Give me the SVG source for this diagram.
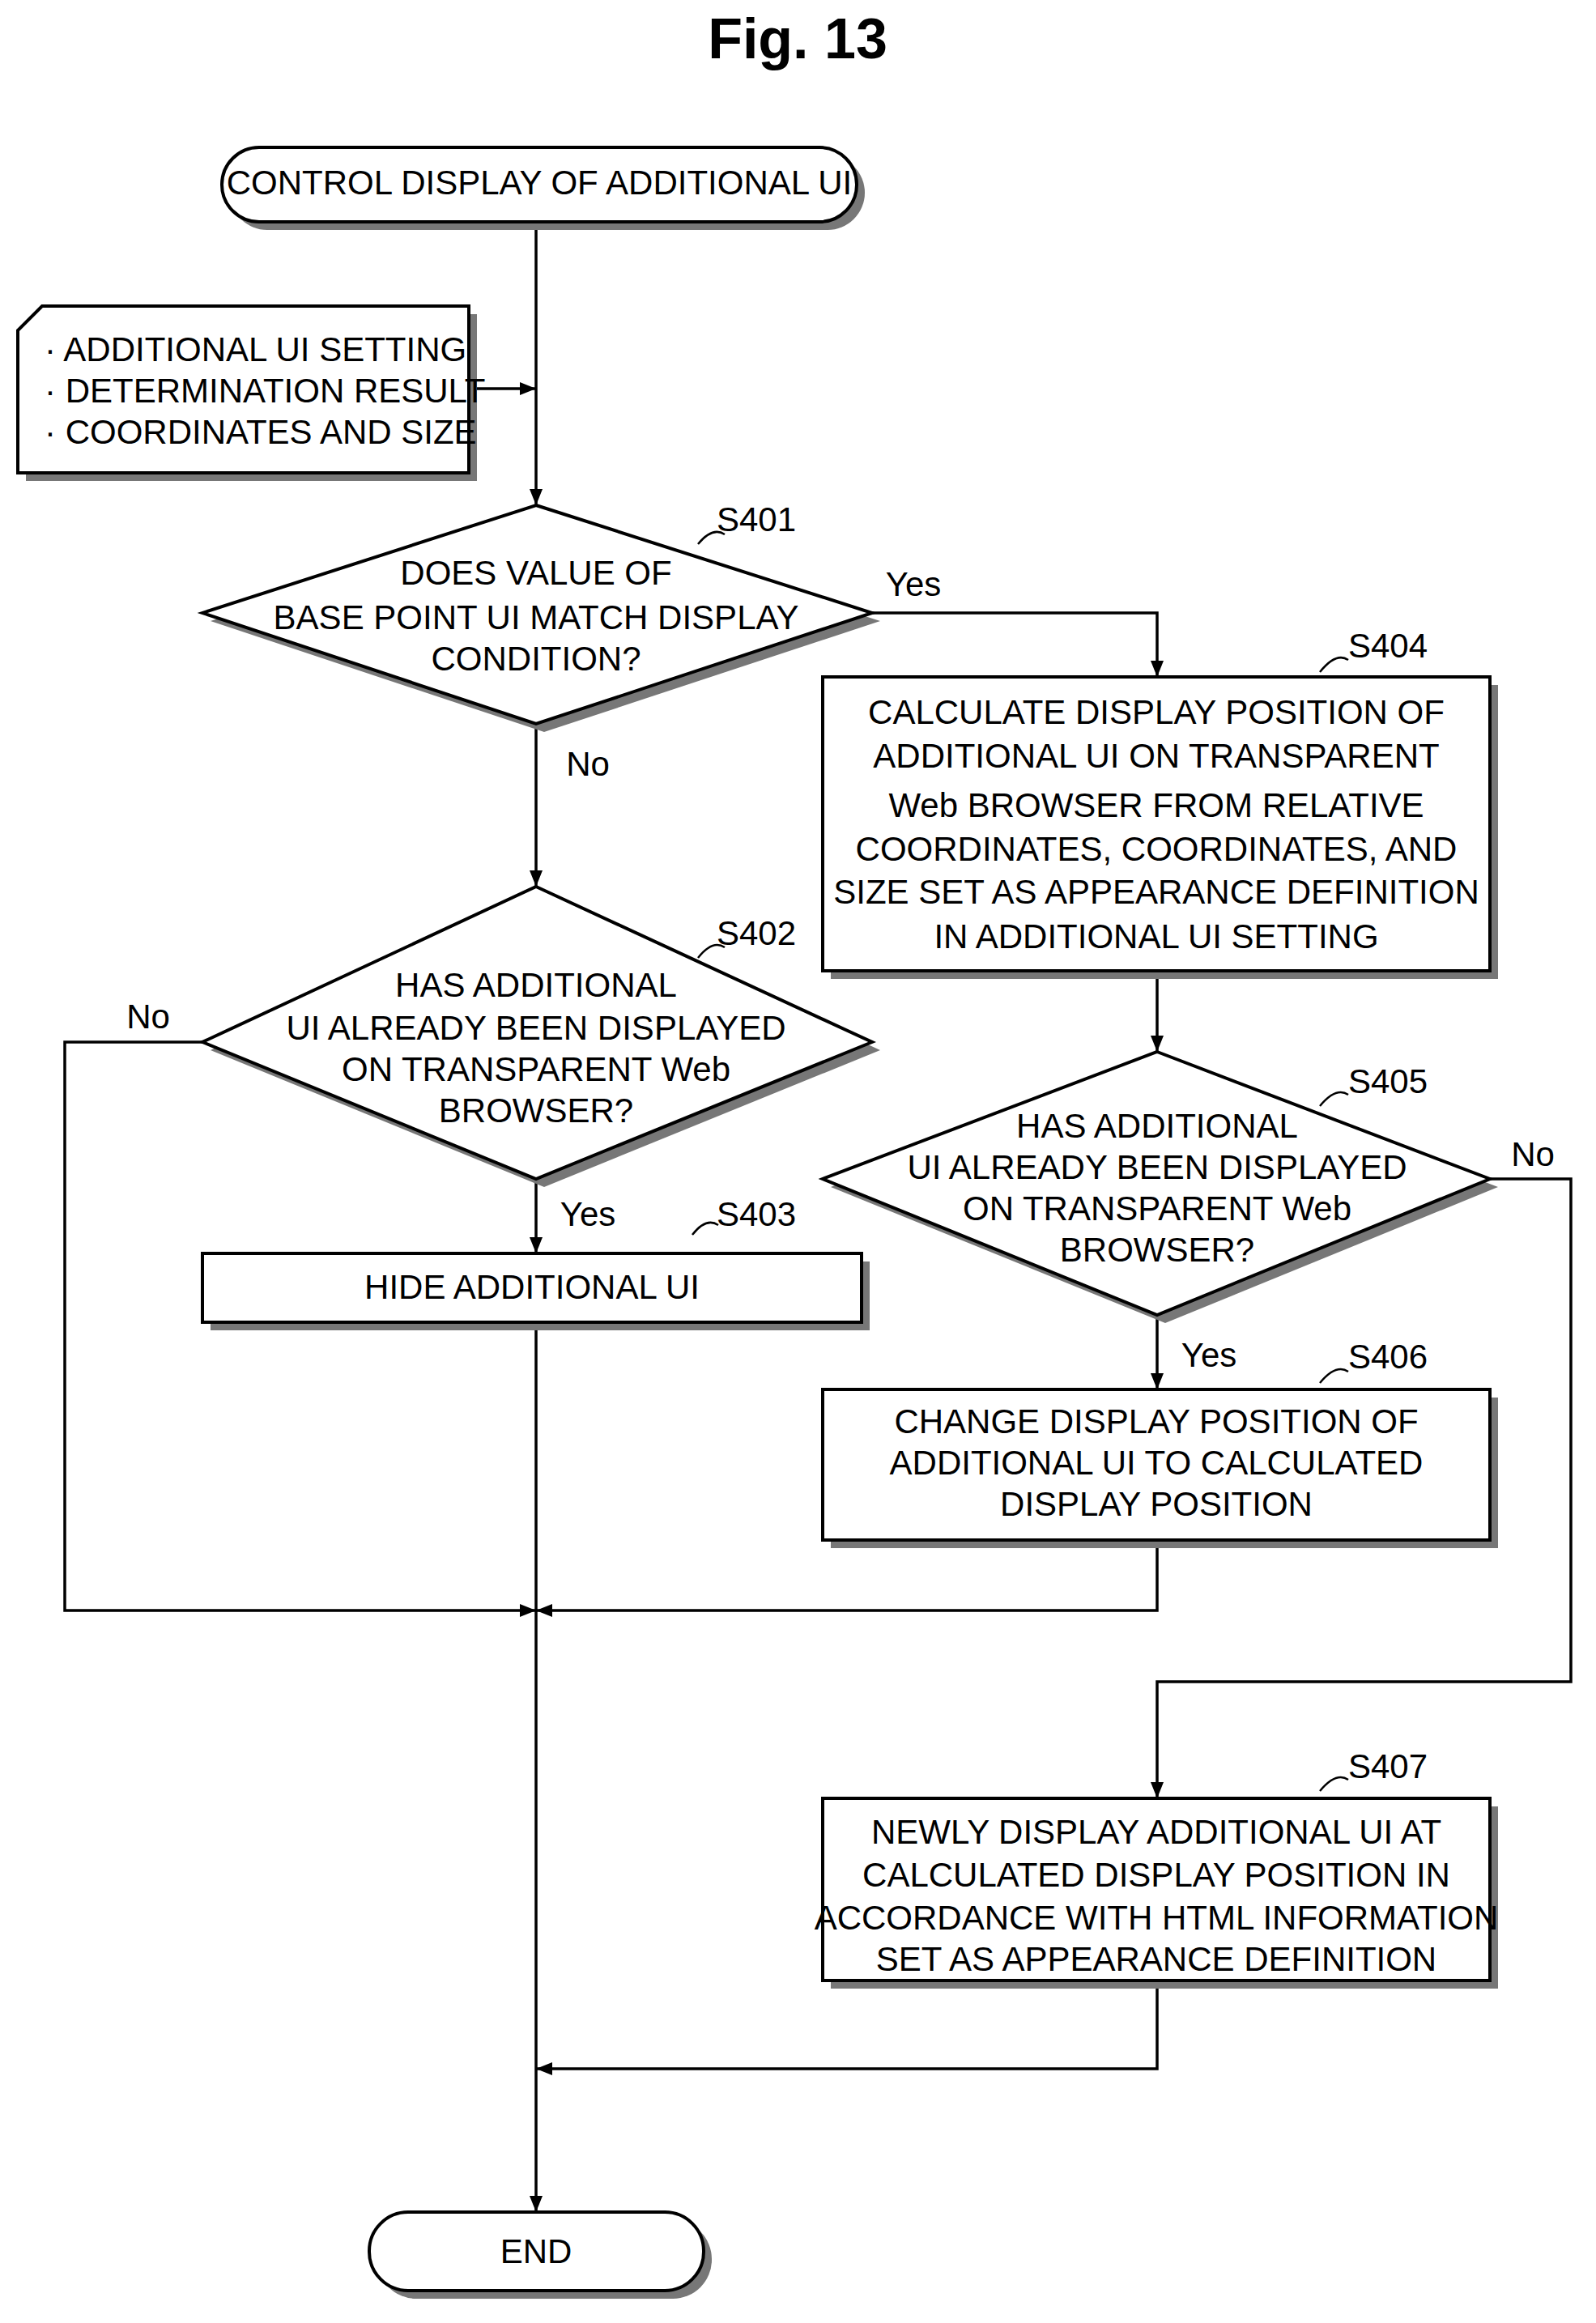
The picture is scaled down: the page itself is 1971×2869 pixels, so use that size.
<svg xmlns="http://www.w3.org/2000/svg" width="1971" height="2869" viewBox="0 0 1971 2869">
<style>
.s{fill:#fff;stroke:#000;stroke-width:4}
.sh{fill:#777}
.l{fill:none;stroke:#000;stroke-width:3.5}
text{font-family:"Liberation Sans Narrow","Liberation Sans",Arial,sans-serif;font-size:42px;text-anchor:middle;fill:#000}
.lb{text-anchor:start}
</style>
<defs>
<marker id="a" markerWidth="10" markerHeight="10" refX="9" refY="5" orient="auto" markerUnits="userSpaceOnUse" viewBox="0 0 10 10"><path d="M0,0L10,5L0,10z"/></marker>
<marker id="ah" markerWidth="22" markerHeight="22" refX="20" refY="11" orient="auto" markerUnits="userSpaceOnUse"><path d="M0,3L20,11L0,19z"/></marker>
</defs>
<text x="985" y="72" style="font-family:'Liberation Sans',Arial,sans-serif;font-size:70px;font-weight:bold">Fig. 13</text>
<g id="connectors">
<path class="l" d="M662,274V624" marker-end="url(#ah)"/>
<path class="l" d="M579,480H662" marker-end="url(#ah)"/>
<path class="l" d="M1077,757H1429V836" marker-end="url(#ah)"/>
<path class="l" d="M662,894V1095" marker-end="url(#ah)"/>
<path class="l" d="M662,1456V1548" marker-end="url(#ah)"/>
<path class="l" d="M250,1287H80V1989H662" marker-end="url(#ah)"/>
<path class="l" d="M662,1633V2732" marker-end="url(#ah)"/>
<path class="l" d="M1429,1199V1299" marker-end="url(#ah)"/>
<path class="l" d="M1429,1624V1716" marker-end="url(#ah)"/>
<path class="l" d="M1429,1902V1989H662" marker-end="url(#ah)"/>
<path class="l" d="M1840,1456H1940V2077H1429V2221" marker-end="url(#ah)"/>
<path class="l" d="M1429,2446V2555H662" marker-end="url(#ah)"/>
<text x="1128" y="736">Yes</text>
<text x="726" y="958">No</text>
<text x="183" y="1270">No</text>
<text x="726" y="1514">Yes</text>
<text x="1893" y="1440">No</text>
<text x="1493" y="1688">Yes</text>
</g>
<g id="start">
<rect class="sh" x="284" y="192" width="784" height="92" rx="46"/>
<rect class="s" x="274" y="182" width="784" height="92" rx="46"/>
<text x="666" y="240">CONTROL DISPLAY OF ADDITIONAL UI</text>
</g>
<g id="input">
<path class="sh" d="M62,388H589V594H32V418z"/>
<path class="s" d="M52,378H579V584H22V408z"/>
<text class="lb" x="55" y="446">· ADDITIONAL UI SETTING</text>
<text class="lb" x="55" y="497">· DETERMINATION RESULT</text>
<text class="lb" x="55" y="548">· COORDINATES AND SIZE</text>
</g>
<g id="S401">
<path class="sh" d="M672,634L1087,767L672,904L260,767z"/>
<path class="s" d="M662,624L1077,757L662,894L250,757z"/>
<text x="662" y="722">DOES VALUE OF</text>
<text x="662" y="777">BASE POINT UI MATCH DISPLAY</text>
<text x="662" y="828">CONDITION?</text>
<path class="l" d="M862,672Q880,650 895,660" style="stroke-width:2.5"/>
<text class="lb" x="885" y="656">S401</text>
</g>
<g id="S404">
<rect class="sh" x="1026" y="846" width="824" height="363"/>
<rect class="s" x="1016" y="836" width="824" height="363"/>
<text x="1428" y="894">CALCULATE DISPLAY POSITION OF</text>
<text x="1428" y="948">ADDITIONAL UI ON TRANSPARENT</text>
<text x="1428" y="1009">Web BROWSER FROM RELATIVE</text>
<text x="1428" y="1063">COORDINATES, COORDINATES, AND</text>
<text x="1428" y="1116">SIZE SET AS APPEARANCE DEFINITION</text>
<text x="1428" y="1171">IN ADDITIONAL UI SETTING</text>
<path class="l" d="M1630,830Q1650,805 1665,815" style="stroke-width:2.5"/>
<text class="lb" x="1665" y="812">S404</text>
</g>
<g id="S402">
<path class="sh" d="M672,1105L1087,1297L672,1466L260,1297z"/>
<path class="s" d="M662,1095L1077,1287L662,1456L250,1287z"/>
<text x="662" y="1231">HAS ADDITIONAL</text>
<text x="662" y="1284">UI ALREADY BEEN DISPLAYED</text>
<text x="662" y="1335">ON TRANSPARENT Web</text>
<text x="662" y="1386">BROWSER?</text>
<path class="l" d="M862,1183Q880,1160 895,1170" style="stroke-width:2.5"/>
<text class="lb" x="885" y="1167">S402</text>
</g>
<g id="S403">
<rect class="sh" x="260" y="1558" width="814" height="85"/>
<rect class="s" x="250" y="1548" width="814" height="85"/>
<text x="657" y="1604">HIDE ADDITIONAL UI</text>
<path class="l" d="M855,1525Q872,1503 887,1513" style="stroke-width:2.5"/>
<text class="lb" x="885" y="1514">S403</text>
</g>
<g id="S405">
<path class="sh" d="M1439,1309L1850,1466L1439,1634L1026,1466z"/>
<path class="s" d="M1429,1299L1840,1456L1429,1624L1016,1456z"/>
<text x="1429" y="1405">HAS ADDITIONAL</text>
<text x="1429" y="1456">UI ALREADY BEEN DISPLAYED</text>
<text x="1429" y="1507">ON TRANSPARENT Web</text>
<text x="1429" y="1558">BROWSER?</text>
<path class="l" d="M1630,1366Q1650,1342 1665,1352" style="stroke-width:2.5"/>
<text class="lb" x="1665" y="1350">S405</text>
</g>
<g id="S406">
<rect class="sh" x="1026" y="1726" width="824" height="186"/>
<rect class="s" x="1016" y="1716" width="824" height="186"/>
<text x="1428" y="1770">CHANGE DISPLAY POSITION OF</text>
<text x="1428" y="1821">ADDITIONAL UI TO CALCULATED</text>
<text x="1428" y="1872">DISPLAY POSITION</text>
<path class="l" d="M1630,1708Q1650,1684 1665,1694" style="stroke-width:2.5"/>
<text class="lb" x="1665" y="1690">S406</text>
</g>
<g id="S407">
<rect class="sh" x="1026" y="2231" width="824" height="225"/>
<rect class="s" x="1016" y="2221" width="824" height="225"/>
<text x="1428" y="2277">NEWLY DISPLAY ADDITIONAL UI AT</text>
<text x="1428" y="2330">CALCULATED DISPLAY POSITION IN</text>
<text x="1428" y="2383">ACCORDANCE WITH HTML INFORMATION</text>
<text x="1428" y="2434">SET AS APPEARANCE DEFINITION</text>
<path class="l" d="M1630,2212Q1650,2188 1665,2198" style="stroke-width:2.5"/>
<text class="lb" x="1665" y="2196">S407</text>
</g>
<g id="end">
<rect class="sh" x="466" y="2742" width="413" height="97" rx="48"/>
<rect class="s" x="456" y="2732" width="413" height="97" rx="48"/>
<text x="662" y="2795">END</text>
</g>
</svg>
